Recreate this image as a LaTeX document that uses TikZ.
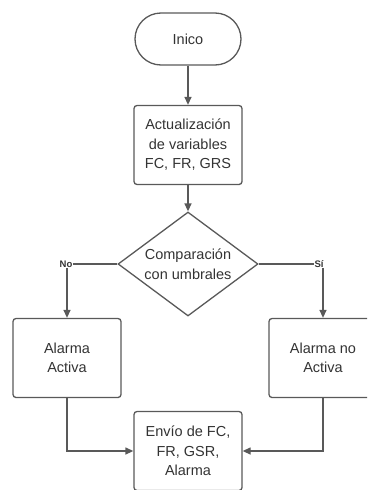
\documentclass[tikz,border=0pt]{standalone}
\usepackage{fontspec}
\setmainfont{Liberation Sans}
\usetikzlibrary{shapes.geometric,arrows.meta}
\definecolor{lc}{HTML}{595959}
\definecolor{tc}{HTML}{333333}
\begin{document}
\begin{tikzpicture}[x=1pt,y=1pt,
  every node/.style={font=\fontsize{14.5}{19.5}\selectfont, text=tc, align=center},
  procbox/.style={draw=lc, line width=1.3pt, rounded corners=3pt, minimum width=108pt, minimum height=79pt, inner sep=1pt},
  startbox/.style={draw=lc, line width=1.3pt, rounded corners=26pt, minimum width=106pt, minimum height=52pt},
  decbox/.style={draw=lc, line width=1.3pt, diamond, aspect=1.346, minimum width=140pt, minimum height=104pt, inner sep=0pt},
  conn/.style={draw=lc, line width=1.3pt},
  arr/.style={conn, -{Triangle[length=8pt,width=7pt]}},
  lbl/.style={font=\fontsize{9.5}{11}\selectfont\bfseries, text=tc, inner sep=0.5pt}
]
\useasboundingbox (0,0) rectangle (367,-490);
\clip (0,0) rectangle (367,-490);
\node[startbox] (start) at (188,-39) {Inico};
\node[procbox] (upd) at (188,-145) {Actualización\\de variables\\FC, FR, GRS};
\node[decbox] (cmp) at (188,-264) {Comparación\\con umbrales};
\node[procbox] (act) at (67,-358) {Alarma\\Activa};
\node[procbox] (nact) at (323,-358) {Alarma no\\Activa};
\node[procbox] (send) at (188,-451) {Envío de FC,\\FR, GSR,\\Alarma};
\node[lbl] (no) at (66,-264) {No};
\node[lbl] (si) at (319,-264) {Sí};
\draw[arr] (start) -- (upd);
\draw[arr] (upd) -- (cmp);
\draw[conn] (cmp.west) -- (no.east);
\draw[conn] (cmp.east) -- (si.west);
\draw[arr] (no.south -| act.north) -- (act.north);
\draw[arr] (si.south east -| nact.north) -- (nact.north);
\draw[arr] (act.south) |- (send.west);
\draw[arr] (nact.south) |- (send.east);
\end{tikzpicture}
\end{document}
